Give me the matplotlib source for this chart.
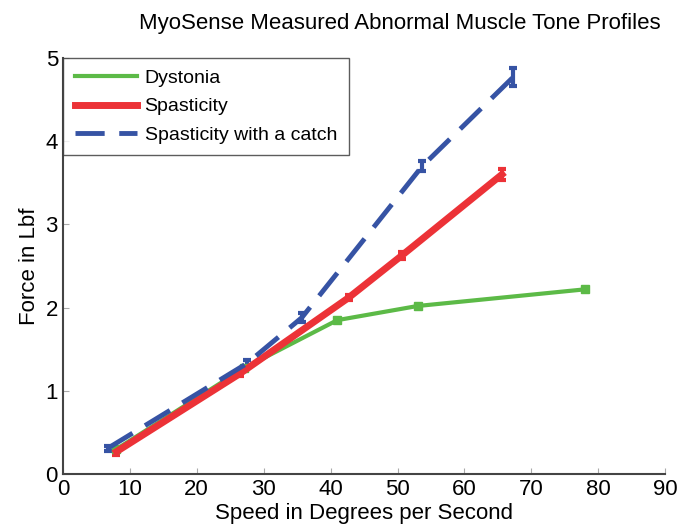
import matplotlib
matplotlib.use("Agg")
import matplotlib.pyplot as plt
from matplotlib.lines import Line2D

plt.rcParams['font.family'] = ['Liberation Sans', 'DejaVu Sans']

# Dystonia
dys_speed = [8.0, 27.0, 41.0, 53.0, 78.0]
dys_force = [0.30, 1.27, 1.85, 2.02, 2.22]
dys_err = [0.02, 0.02, 0.03, 0.03, 0.03]

# Spasticity
spa_speed = [8.0, 26.5, 42.7, 50.7, 65.6]
spa_force = [0.27, 1.21, 2.12, 2.63, 3.60]
spa_err = [0.04, 0.03, 0.03, 0.04, 0.07]

# Spasticity with a catch
cat_speed = [6.7, 27.5, 35.7, 53.7, 67.3]
cat_force = [0.31, 1.33, 1.88, 3.70, 4.77]
cat_err = [0.03, 0.04, 0.05, 0.06, 0.11]

green = '#5cba47'
red = '#ec3237'
blue = '#3653a4'

fig = plt.figure(figsize=(6.83, 5.31), dpi=100)
ax = fig.add_axes([0.092, 0.107, 0.882, 0.784])

ax.errorbar(dys_speed, dys_force, yerr=dys_err, color=green, lw=3,
            marker='s', ms=6, capsize=2, capthick=2)
ax.errorbar(spa_speed, spa_force, yerr=spa_err, color=red, lw=5,
            capsize=3, capthick=3, elinewidth=3)
ax.errorbar(cat_speed, cat_force, yerr=cat_err, color=blue, lw=3.5,
            dashes=(6, 3), capsize=3, capthick=3, elinewidth=3)

ax.set_xlim(0, 90)
ax.set_ylim(0, 5)
ax.set_xticks(range(0, 91, 10))
ax.set_yticks(range(0, 6))
ax.tick_params(direction='in', labelsize=16, color='#aaaaaa', length=4)
for s in ['top', 'right']:
    ax.spines[s].set_visible(False)
for s in ['left', 'bottom']:
    ax.spines[s].set_color('#444444')
    ax.spines[s].set_linewidth(1.5)

ax.set_xlabel('Speed in Degrees per Second', fontsize=16, labelpad=2)
ax.set_ylabel('Force in Lbf', fontsize=16)
fig.text(0.585, 0.955, 'MyoSense Measured Abnormal Muscle Tone Profiles',
         ha='center', va='center', fontsize=16)

handles = [
    Line2D([], [], color=green, lw=3),
    Line2D([], [], color=red, lw=5),
    Line2D([], [], color=blue, lw=3.5, dashes=(6, 3)),
]
labels = ['Dystonia', 'Spasticity', 'Spasticity with a catch']
leg = ax.legend(handles, labels, loc='upper left', fontsize=14, frameon=True,
                fancybox=False, borderaxespad=0, handlelength=3.2,
                labelspacing=0.55, handletextpad=0.4, borderpad=0.6)
leg.get_frame().set_edgecolor('#333333')
leg.get_frame().set_linewidth(1)

fig.savefig('out.png', dpi=100)
